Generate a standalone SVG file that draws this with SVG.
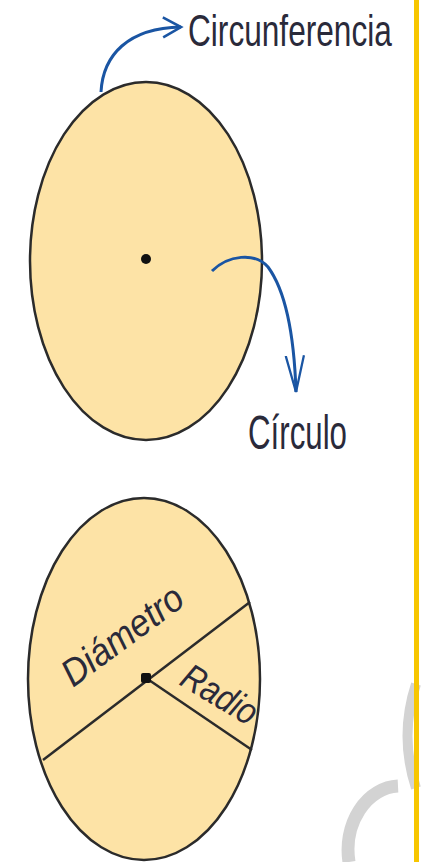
<svg xmlns="http://www.w3.org/2000/svg" width="421" height="862" viewBox="0 0 421 862">
<style>
.shape{fill:#FDE3A6;stroke:#2b2b2b;stroke-width:2.5}
.line{stroke:#2b2b2b;stroke-width:2.5;fill:none}
.conn{fill:none;stroke:#1a55a3;stroke-width:3}
.lbl{font-family:"Liberation Sans",Arial,sans-serif;fill:#2a2a3a}
</style>
<defs>
<marker id="ah" viewBox="0 0 12 12" refX="10" refY="6" markerWidth="8" markerHeight="8" orient="auto" markerUnits="strokeWidth">
<path d="M1,1 L10,6 L1,11" fill="none" stroke="#1a55a3" stroke-width="1.3"/>
</marker>
<marker id="ah2" viewBox="0 0 17 10" refX="16" refY="5" markerWidth="13" markerHeight="7.6" orient="auto" markerUnits="strokeWidth">
<path d="M0,1 L16,5 L0,9" fill="none" stroke="#1a55a3" stroke-width="1"/>
</marker>
</defs>
<rect width="421" height="862" fill="#ffffff"/>
<g id="watermark" fill="none" stroke="#d3d3d3" stroke-width="13">
<path d="M398,786 A52,64 0 0 0 349,862"/>
<path d="M416,684 Q399,736 416,788" stroke-width="10"/>
</g>
<rect id="border" x="414" y="0" width="5" height="862" fill="#F7C600"/>
<g id="circle-top">
<ellipse class="shape" cx="146" cy="261" rx="116" ry="179"/>
<circle cx="146" cy="259" r="5" fill="#111"/>
</g>
<g id="circle-bottom">
<ellipse class="shape" cx="144" cy="679" rx="116" ry="181"/>
<line class="line" x1="43" y1="760" x2="250" y2="602"/>
<line class="line" x1="146" y1="678" x2="252" y2="750"/>
<rect x="141" y="673" width="10" height="10" rx="2" fill="#111"/>
<text class="lbl" font-size="38" font-style="italic" transform="translate(73,688) rotate(-36.5) scale(0.92,1)">Diámetro</text>
<text class="lbl" font-size="37" font-style="italic" transform="translate(178,684) rotate(31) scale(0.85,1)">Radio</text>
</g>
<g id="connectors">
<path class="conn" d="M101,92 C103,55 128,28 181,27" marker-end="url(#ah)"/>
<path class="conn" d="M212,271 C228,255 255,252 268,267 C285,290 294,330 296,392" marker-end="url(#ah2)"/>
</g>
<g id="label-circunferencia">
<text class="lbl" font-size="44" transform="translate(188,46) scale(0.719,1)">Circunferencia</text>
</g>
<g id="label-circulo">
<text class="lbl" font-size="48" transform="translate(248,449) scale(0.651,1)">Círculo</text>
</g>
</svg>
